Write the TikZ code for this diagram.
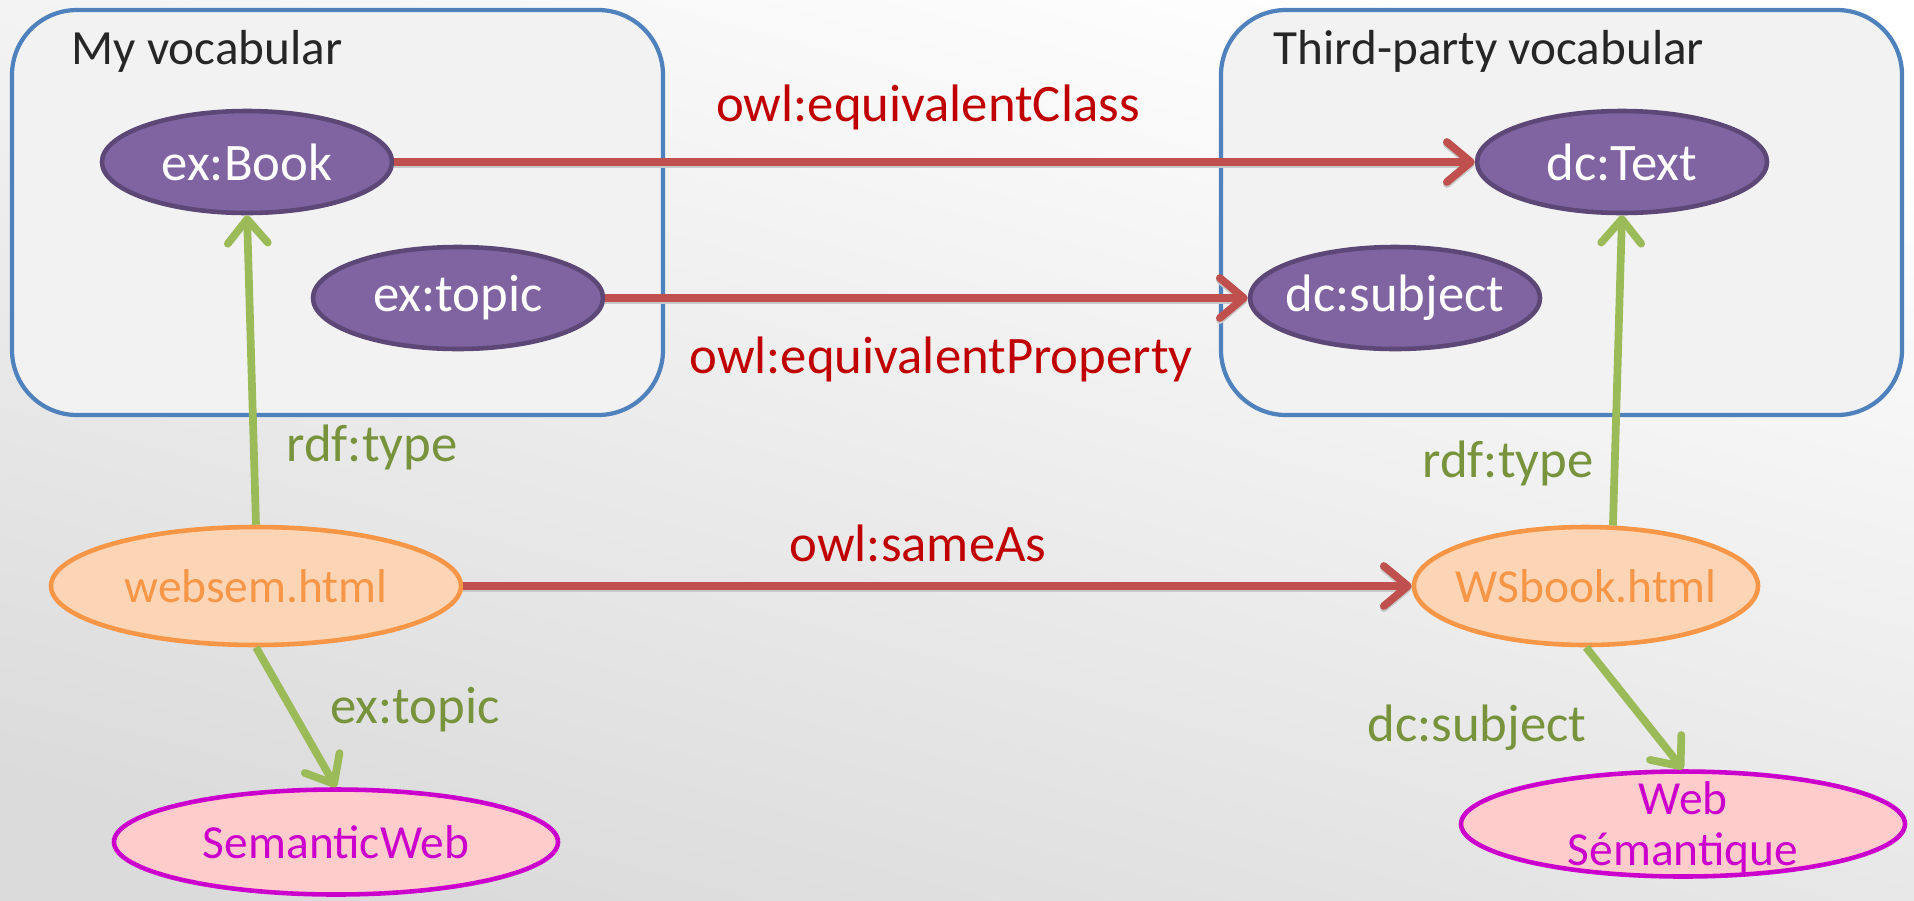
\documentclass[tikz,border=0pt]{standalone}
\usepackage{fontspec}
\setmainfont{Carlito}
\usepackage{xcolor}
\usetikzlibrary{positioning,arrows.meta,shapes.geometric}

\definecolor{vocfill}{HTML}{F2F2F2}
\definecolor{vocline}{HTML}{4F81BD}
\definecolor{clsfill}{HTML}{8064A2}
\definecolor{clsline}{HTML}{5C4776}
\definecolor{docfill}{HTML}{FBD5B5}
\definecolor{docline}{HTML}{F79646}
\definecolor{litfill}{HTML}{FFCCCC}
\definecolor{litline}{HTML}{CC00CC}
\definecolor{owlline}{HTML}{C0504D}
\definecolor{owltext}{HTML}{C00000}
\definecolor{propline}{HTML}{9BBB59}
\definecolor{proptext}{HTML}{77933C}

\begin{document}
\begin{tikzpicture}[
    voc/.style     ={fill=vocfill, draw=vocline, line width=1.2pt, rounded corners=0.65cm},
    vocname/.style ={font=\fontsize{14pt}{16pt}\selectfont, text=black!85, anchor=west, inner sep=0pt},
    cls/.style     ={ellipse, fill=clsfill, draw=clsline, line width=1.3pt, inner sep=0pt,
                     minimum width=2.9cm, minimum height=1.02cm, text=white,
                     font=\fontsize{15pt}{18pt}\selectfont},
    doc/.style     ={ellipse, fill=docfill, draw=docline, line width=1.3pt, inner sep=0pt,
                     minimum height=1.18cm, text=docline, font=\fontsize{13.5pt}{16pt}\selectfont},
    lit/.style     ={ellipse, fill=litfill, draw=litline, line width=1.3pt, inner sep=0pt,
                     minimum width=4.44cm, minimum height=1.05cm, text=litline,
                     font=\fontsize{13.5pt}{16pt}\selectfont},
    littext/.style ={text=litline, align=center, inner sep=0pt, font=\fontsize{13.5pt}{14.5pt}\selectfont},
    lineshadow/.style={preaction={draw=black!22, line width=2.2pt, transform canvas={yshift=-0.6pt}}},
    owl/.style     ={draw=owlline, line width=2.2pt, lineshadow,
                     -{Straight Barb[length=2.4mm, width=4mm, round]}},
    prop/.style    ={draw=propline, line width=2.2pt,
                     -{Straight Barb[length=2.4mm, width=4mm, round]}},
    owllab/.style  ={text=owltext, inner sep=0pt, font=\fontsize{15pt}{18pt}\selectfont},
    proplab/.style ={text=proptext, inner sep=0pt, font=\fontsize{15pt}{18pt}\selectfont}
  ]
    % --- canvas ---
    \useasboundingbox (0,0) rectangle (19.14,-9);
    \shade[top color=white, middle color=white, bottom color=black!14, shading angle=-15]
      (0,0) rectangle (19.14,-9);

    % vocabularies
    \draw[voc] (0.12,-0.10) rectangle (6.63,-4.15);
    \draw[voc] (12.21,-0.10) rectangle (19.02,-4.15);
    \node[vocname] (myvoc) at (0.71,-0.51) {My vocabular};
    \node[vocname] (thirdvoc) at (12.73,-0.51) {Third-party vocabular};

    % classes and properties
    \node[cls] (exbook) at (2.47,-1.62) {ex:Book};
    \node[cls] (extopic) at (4.58,-2.98) {ex:topic};
    \node[cls] (dctext) at (16.22,-1.62) {dc:Text};
    \node[cls, inner xsep=-0.85mm] (dcsubject) at (13.95,-2.98) {dc:subject};

    % documents
    \node[doc, minimum width=4.1cm] (websem) at (2.56,-5.86) {websem.html};
    \node[doc, minimum width=3.44cm, inner xsep=-1mm] (wsbook) at (15.86,-5.86) {WSbook.html};

    % literals
    \node[lit] (semweb) at (3.36,-8.42) {SemanticWeb};
    \node[lit] (websemfr) at (16.83,-8.24) {};
    \node[littext] (websemfrtext) at (16.83,-8.27) {Web\\Sémantique};

    % owl links
    \draw[owl] (exbook.east) -- (dctext.west);
    \draw[owl] (extopic.east) -- (dcsubject.west);
    \draw[owl] (websem.east) -- (wsbook.west);
    \node[owllab] (eqclass) at (9.28,-1.07) {owl:equivalentClass};
    \node[owllab] (eqprop) at (9.41,-3.59) {owl:equivalentProperty};
    \node[owllab] (sameas) at (9.18,-5.43) {owl:sameAs};

    % typing and subjects
    \draw[prop] (websem.north) -- (exbook.south);
    \draw[prop] (wsbook.66) -- (dctext.south);
    \draw[prop] (websem.south) -- (semweb.north);
    \draw[prop] (wsbook.south) -- (websemfr.north);
    \node[proplab] (typeleft) at (3.72,-4.47) {rdf:type};
    \node[proplab] (typeright) at (15.08,-4.63) {rdf:type};
    \node[proplab] (topiclab) at (4.15,-7.10) {ex:topic};
    \node[proplab] (subjlab) at (14.77,-7.28) {dc:subject};
\end{tikzpicture}
\end{document}
